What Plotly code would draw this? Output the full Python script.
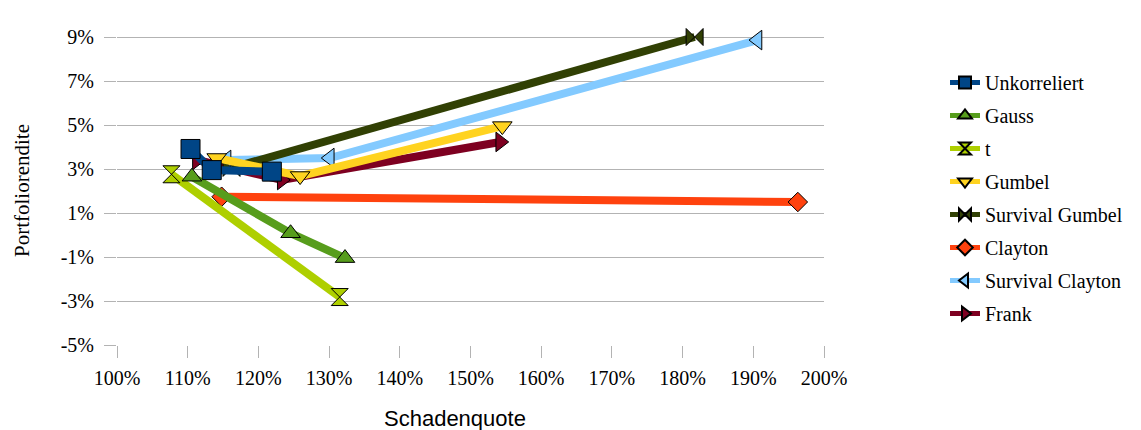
import plotly.graph_objects as go

# Schadenquote (%) and Portfoliorendite (%) per copula model
unkorreliert_x = [110.4, 113.4, 121.9]
unkorreliert_y = [3.91, 2.95, 2.88]

gauss_x = [110.6, 124.55, 132.25]
gauss_y = [2.65, 0.08, -1.05]

t_x = [107.7, 131.5]
t_y = [2.76, -2.82]

gumbel_x = [114.1, 125.9, 154.5]
gumbel_y = [3.5, 2.68, 4.95]

surv_gumbel_x = [116.2, 181.7]
surv_gumbel_y = [3.05, 9.0]

clayton_x = [114.8, 196.3]
clayton_y = [1.74, 1.5]

surv_clayton_x = [115.5, 130.1, 190.6]
surv_clayton_y = [3.41, 3.5, 8.86]

frank_x = [111.3, 123.3, 154.2]
frank_y = [3.41, 2.5, 4.23]

x_ticks = [100, 110, 120, 130, 140, 150, 160, 170, 180, 190, 200]
x_ticklabels = ["100%", "110%", "120%", "130%", "140%", "150%",
                "160%", "170%", "180%", "190%", "200%"]
y_ticks = [-5, -3, -1, 1, 3, 5, 7, 9]
y_ticklabels = ["-5%", "-3%", "-1%", "1%", "3%", "5%", "7%", "9%"]

series = [
    ("Unkorreliert", unkorreliert_x, unkorreliert_y, "#004586", "square", 19),
    ("Gauss", gauss_x, gauss_y, "#579d1c", "triangle-up", 17),
    ("t", t_x, t_y, "#aecf00", "hourglass", 17),
    ("Gumbel", gumbel_x, gumbel_y, "#ffd320", "triangle-down", 17),
    ("Survival Gumbel", surv_gumbel_x, surv_gumbel_y, "#314004", "bowtie", 17),
    ("Clayton", clayton_x, clayton_y, "#ff420e", "diamond", 15),
    ("Survival Clayton", surv_clayton_x, surv_clayton_y, "#83caff", "triangle-left", 17),
    ("Frank", frank_x, frank_y, "#7e0021", "triangle-right", 17),
]

SERIF = "Liberation Serif, 'Times New Roman', serif"
SANS = "Liberation Sans, Arial, sans-serif"

# plot area in pixels: x 117..824, y 15..345
PLOT_L, PLOT_R, PLOT_T, PLOT_B = 117, 824, 15, 345
PW, PH = PLOT_R - PLOT_L, PLOT_B - PLOT_T

fig = go.Figure()
n = len(series)
for i, (name, xs, ys, color, symbol, size) in enumerate(series):
    fig.add_trace(go.Scatter(
        x=xs, y=ys, name=name, legendgroup=name,
        mode="lines+markers",
        zorder=n - i,  # first series drawn on top
        line=dict(color=color, width=8),
        marker=dict(symbol=symbol, size=size, color=color,
                    line=dict(color="#000000", width=1)),
    ))

fig.update_layout(
    width=1141, height=430,
    margin=dict(l=PLOT_L, r=1141 - PLOT_R, t=PLOT_T, b=430 - PLOT_B),
    paper_bgcolor="white", plot_bgcolor="white",
    font=dict(family=SERIF, size=20, color="black"),
    showlegend=True,
    legend=dict(
        traceorder="grouped", tracegroupgap=4,
        xref="container", yref="container",
        x=945 / 1141, xanchor="left",
        y=1 - 63 / 430, yanchor="top",
        maxheight=1,
        itemsizing="constant",
        font=dict(family=SERIF, size=20, color="black"),
        bgcolor="rgba(0,0,0,0)", borderwidth=0,
        itemwidth=30,
    ),
    xaxis=dict(
        range=[100, 200], tickvals=x_ticks, ticktext=x_ticklabels,
        showgrid=False, zeroline=False,
        ticks="outside", ticklen=12, tickcolor="#b3b3b3", tickwidth=1,
        showline=True, linecolor="#c0c0c0", linewidth=1, mirror=True,
        tickfont=dict(family=SERIF, size=20),
        ticklabelstandoff=3,
    ),
    yaxis=dict(
        range=[-5, 10], tickvals=y_ticks, ticktext=y_ticklabels,
        showgrid=True, gridcolor="#b3b3b3", gridwidth=1,
        zeroline=False,
        ticks="outside", ticklen=12, tickcolor="#b3b3b3", tickwidth=1,
        showline=True, linecolor="#c0c0c0", linewidth=1, mirror=True,
        tickfont=dict(family=SERIF, size=20),
        ticklabelstandoff=6,
    ),
    annotations=[
        dict(text="Schadenquote", xref="paper", yref="paper",
             x=(455 - PLOT_L) / PW, y=(PLOT_B - 418) / PH,
             xanchor="center", yanchor="middle", showarrow=False,
             font=dict(family=SANS, size=22, color="black")),
        dict(text="Portfoliorendite", xref="paper", yref="paper",
             x=(22 - PLOT_L) / PW, y=(PLOT_B - 191) / PH,
             xanchor="center", yanchor="middle", showarrow=False,
             textangle=-90,
             font=dict(family=SERIF, size=21, color="black")),
    ],
)

fig.write_html("out.html")
